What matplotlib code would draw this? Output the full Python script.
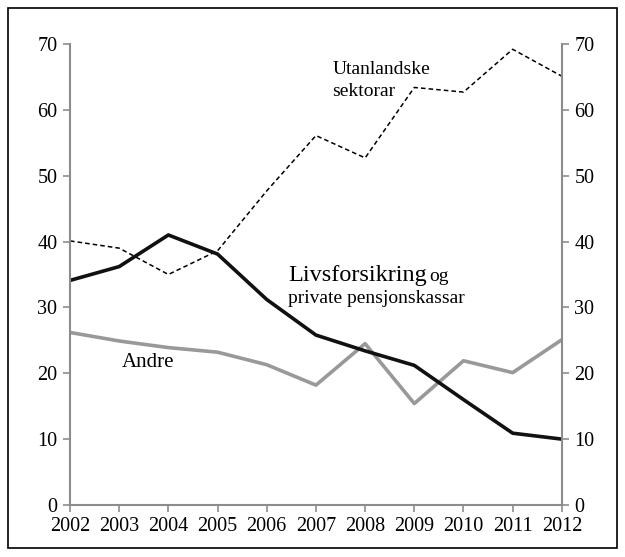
import matplotlib
matplotlib.use("Agg")
import matplotlib.pyplot as plt
from matplotlib.patches import Rectangle

years = list(range(2002, 2013))
utanlandske = [40.1, 39.0, 35.0, 38.6, 47.7, 56.1, 52.7, 63.4, 62.7, 69.2, 65.1]
livsforsikring = [34.1, 36.2, 41.0, 38.1, 31.2, 25.8, 23.4, 21.2, 16.0, 10.9, 10.0]
andre = [26.2, 24.9, 23.9, 23.2, 21.3, 18.2, 24.5, 15.4, 21.9, 20.1, 25.1]
yticks = [0, 10, 20, 30, 40, 50, 60, 70]

plt.rcParams['font.family'] = ['Liberation Serif', 'DejaVu Serif']
grey = '#8c8c8c'

fig = plt.figure(figsize=(6.25, 5.57), dpi=100)
ax = fig.add_axes([0.112, 0.0934, 0.787, 0.8276])

ax.plot(years, utanlandske, color='black', lw=1.1, ls=(0, (3, 2)))
ax.plot(years, andre, color='#999999', lw=2.6)
ax.plot(years, livsforsikring, color='#111111', lw=2.6)

ax.set_xlim(2002, 2012)
ax.set_ylim(0, 70)
ax.set_xticks(years)
ax.set_yticks(yticks)
ax.tick_params(axis='both', direction='out', color=grey, width=1.2, length=5,
               labelsize=14.5, pad=4)
ax.tick_params(axis='y', right=True, labelright=True)
for s in ax.spines.values():
    s.set_color(grey)
    s.set_linewidth(1.5)
ax.spines['top'].set_visible(False)

# series labels
ax.text(2007.33, 65.5, 'Utanlandske', fontsize=14, va='baseline', ha='left')
ax.text(2007.33, 62.1, 'sektorar', fontsize=14, va='baseline', ha='left')
ax.text(2006.43, 34.0, 'Livsforsikring', fontsize=17.5, va='baseline', ha='left')
ax.text(2009.3, 34.0, 'og', fontsize=14, va='baseline', ha='left')
ax.text(2006.43, 30.6, 'private pensjonskassar', fontsize=14, va='baseline', ha='left')
ax.text(2003.05, 20.9, 'Andre', fontsize=15, va='baseline', ha='left')

fig.patches.append(Rectangle((8 / 625, 9 / 557), 609 / 625, 540 / 557,
                             transform=fig.transFigure, fill=False,
                             edgecolor='black', lw=1.2))

fig.savefig('out.png', dpi=100)
